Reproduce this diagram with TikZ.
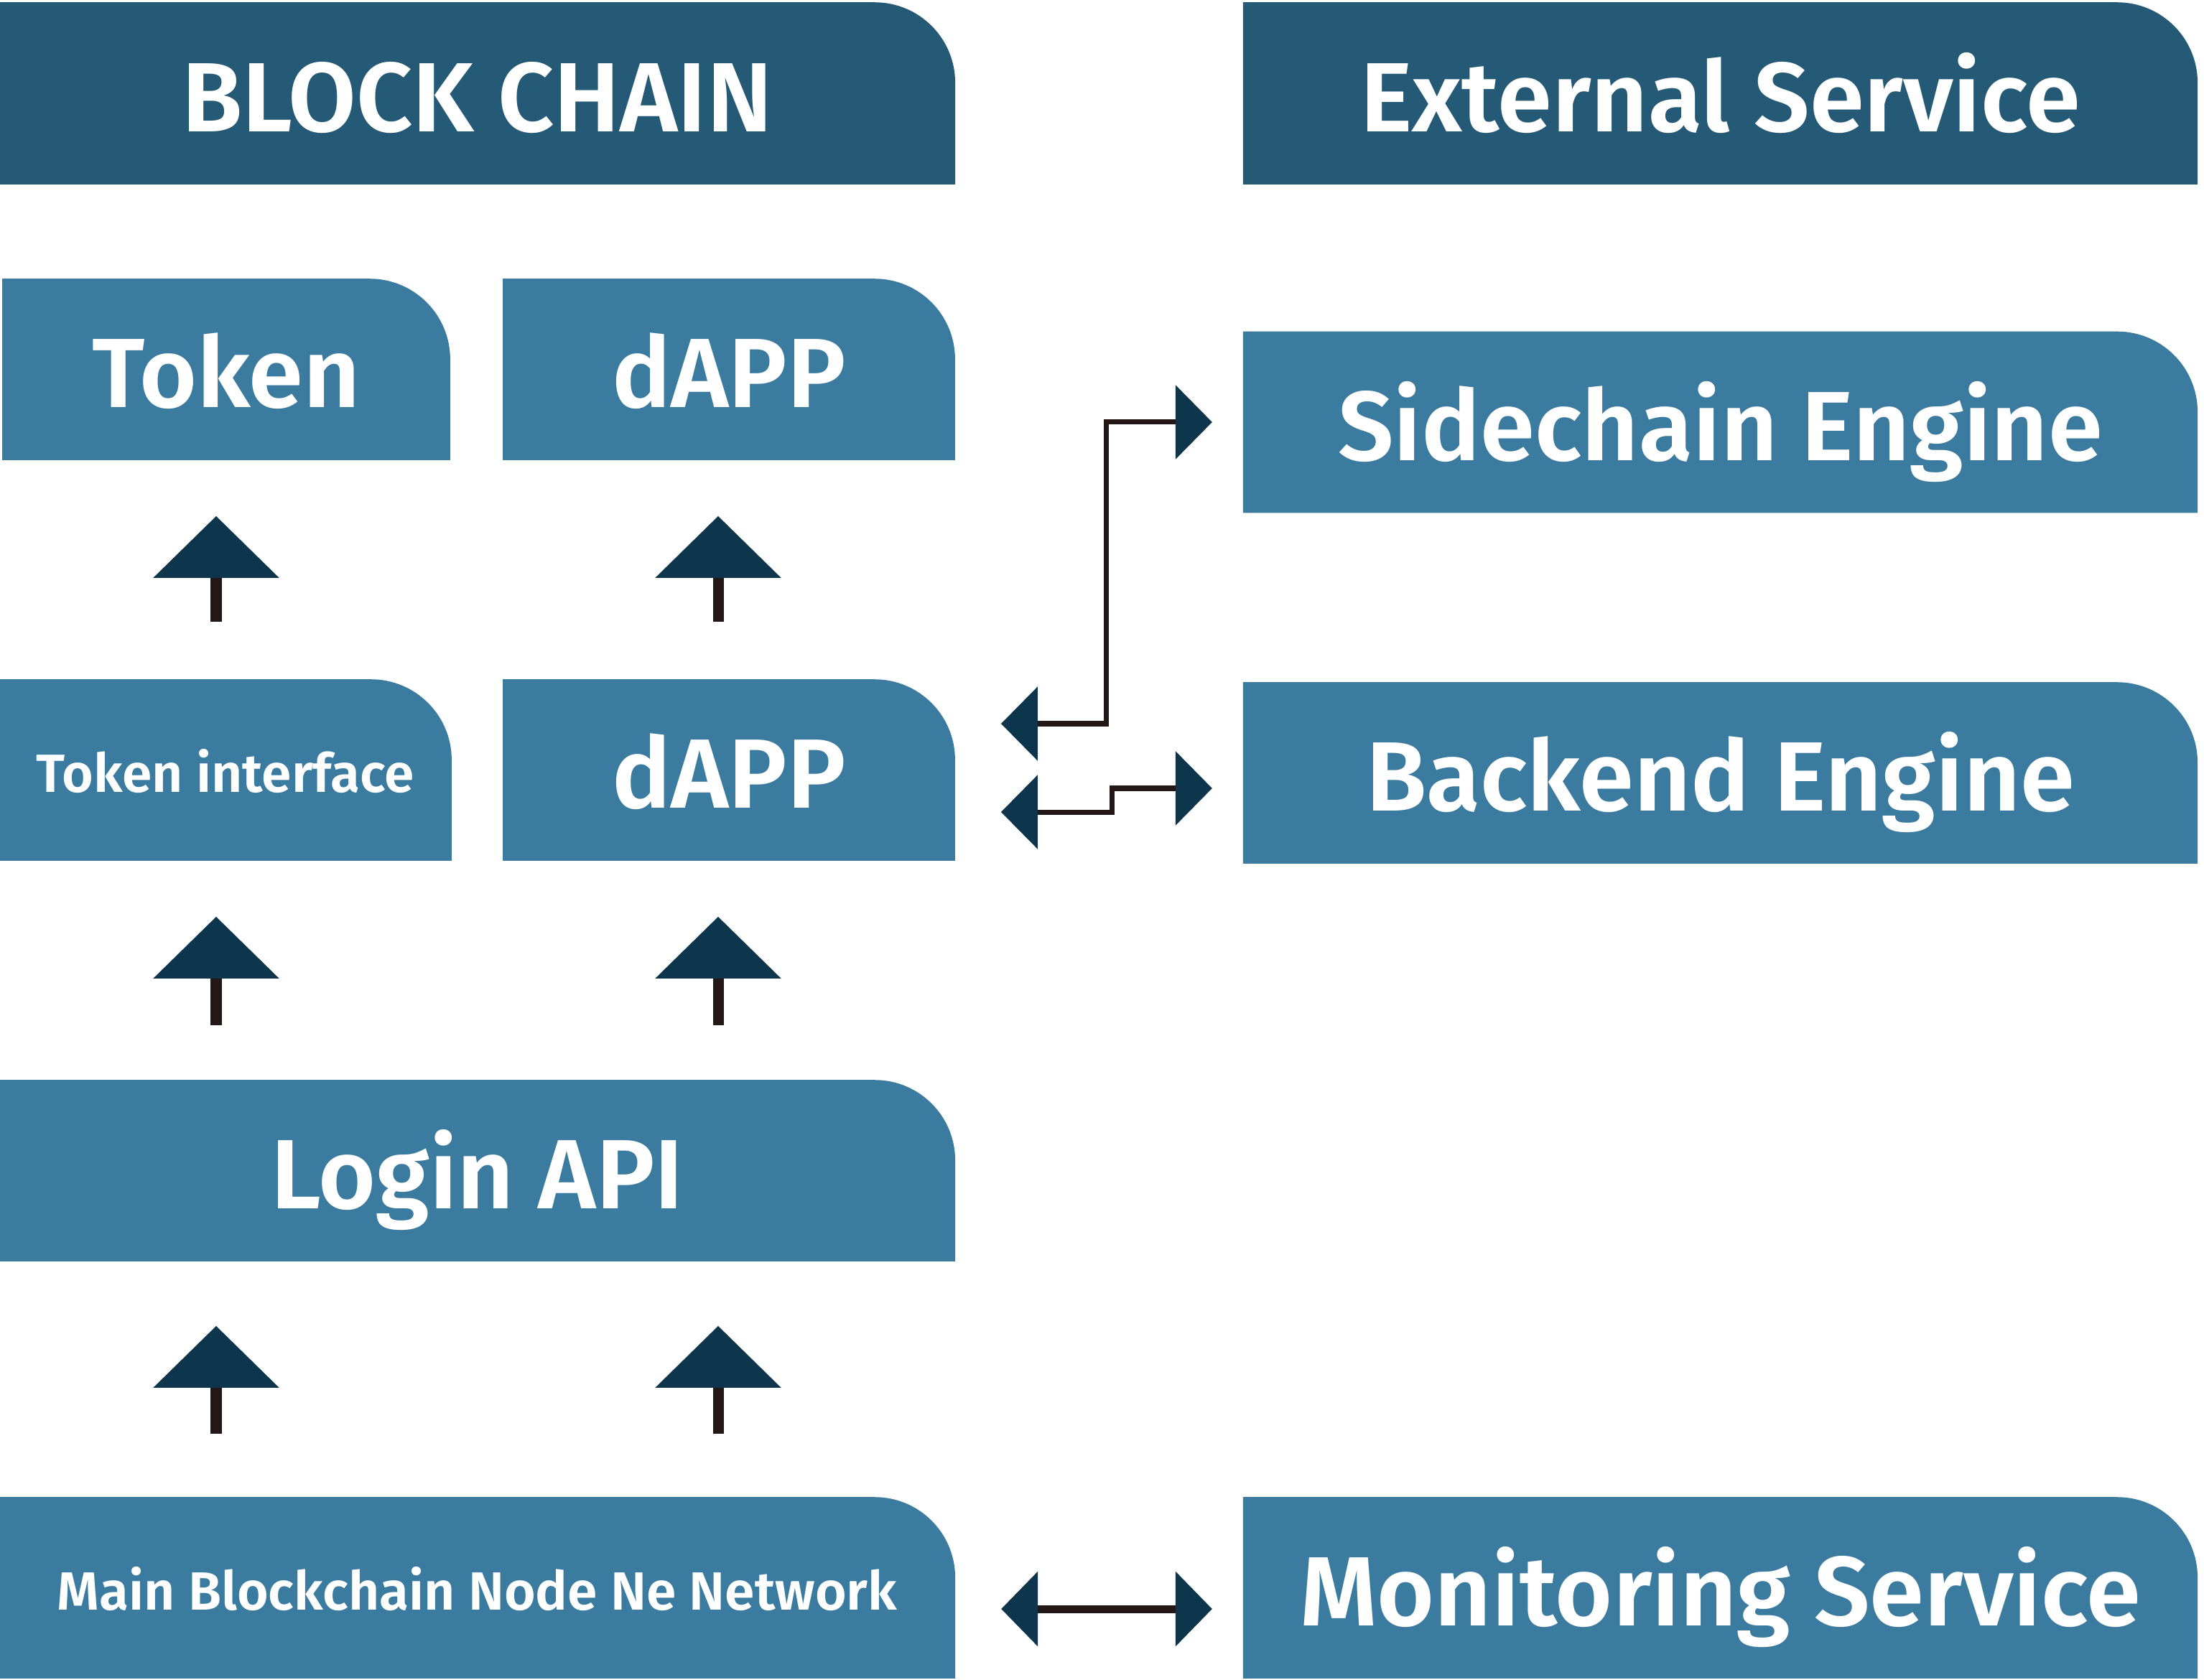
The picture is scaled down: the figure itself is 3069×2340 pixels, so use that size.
\documentclass[tikz,border=0pt]{standalone}
\usepackage{fontspec}
\setmainfont{Fira Sans}[BoldFont={Fira Sans SemiBold}]
\usetikzlibrary{calc,arrows.meta,backgrounds}
\definecolor{headblue}{HTML}{255A76}
\definecolor{boxblue}{HTML}{3B7B9F}
\definecolor{tipdark}{HTML}{0D364D}
\definecolor{stemdark}{HTML}{231815}
\tikzset{
  block/.style={inner sep=0pt,text=white,font=\fontsize{39pt}{41pt}\selectfont\bfseries,text height=1.06cm,text depth=0pt,minimum height=2.51cm},
  small/.style={font=\fontsize{21.3pt}{23pt}\selectfont\bfseries,text height=0.62cm},
  lift/.style={line width=0.15cm,stemdark,-{Triangle[length=0.86cm,width=1.72cm,color=tipdark]},shorten <=0.8cm,shorten >=0.78cm},
  link/.style={line width=0.07cm,stemdark,{Triangle[length=0.51cm,width=1.02cm,color=tipdark]}-{Triangle[length=0.51cm,width=1.02cm,color=tipdark]}}
}

\begin{document}
\begin{tikzpicture}[x=0.01cm,y=-0.01cm]
  \useasboundingbox (0,0) rectangle (3069,2340);
  \node[block,minimum width=13.29cm,minimum height=2.52cm] (chain) at (664.5,130) {BLOCK CHAIN};
  \node[block,minimum width=13.27cm,minimum height=2.52cm] (extsvc) at (2395.5,130) {External Service};
  \node[block,minimum width=6.22cm] (token) at (315,514.5) {Token};
  \node[block,minimum width=6.28cm] (dapptop) at (1015,514.5) {dAPP};
  \node[block,minimum width=13.27cm] (sidechain) at (2395.5,588) {Sidechain Engine};
  \node[block,small,minimum width=6.28cm] (tokenif) at (314,1072.5) {Token interface};
  \node[block,minimum width=6.28cm] (dappmid) at (1015,1072.5) {dAPP};
  \node[block,minimum width=13.27cm] (backend) at (2395.5,1076.5) {Backend Engine};
  \node[block,minimum width=13.29cm] (login) at (664.5,1630.5) {Login API};
  \node[block,small,minimum width=13.29cm] (mainnode) at (664.5,2211.5) {Main Blockchain Node Ne Network};
  \node[block,minimum width=13.27cm] (monitor) at (2395.5,2211.5) {Monitoring Service};

  \begin{scope}[on background layer]
    \foreach \n/\c in {chain/headblue,extsvc/headblue,token/boxblue,dapptop/boxblue,sidechain/boxblue,tokenif/boxblue,dappmid/boxblue,backend/boxblue,login/boxblue,mainnode/boxblue,monitor/boxblue}
      \fill[\c] (\n.south west) -- (\n.north west) -- ([xshift=-1.12cm]\n.north east) arc[start angle=90,end angle=0,radius=1.12cm] -- (\n.south east) -- cycle;
  \end{scope}

  \coordinate (c1) at (301,0);
  \coordinate (c2) at (1000,0);
  \draw[lift] (tokenif.north -| c1) -- (token.south -| c1);
  \draw[lift] (dappmid.north -| c2) -- (dapptop.south -| c2);
  \draw[lift,shorten <=0.76cm] (login.north -| c1) -- (tokenif.south -| c1);
  \draw[lift,shorten <=0.76cm] (login.north -| c2) -- (dappmid.south -| c2);
  \draw[lift,shorten <=0.88cm,shorten >=0.9cm] (mainnode.north -| c1) -- (login.south -| c1);
  \draw[lift,shorten <=0.88cm,shorten >=0.9cm] (mainnode.north -| c2) -- (login.south -| c2);

  \coordinate (kink1) at (1540,1008);
  \coordinate (kink2) at (1548,1131);
  \coordinate (kink3) at (1548,1098);
  \coordinate (mon) at (1540,2241);
  \draw[link,shorten <=0.64cm,shorten >=0.43cm] (dappmid.east |- kink1) -- (kink1) |- (sidechain.west);
  \draw[link,shorten <=0.64cm,shorten >=0.43cm] (dappmid.east |- kink2) -- (kink2) -- (kink3) -- (backend.west |- kink3);
  \draw[link,line width=0.11cm,shorten <=0.64cm,shorten >=0.43cm] (mainnode.east |- mon) -- (monitor.west |- mon);
\end{tikzpicture}
\end{document}
